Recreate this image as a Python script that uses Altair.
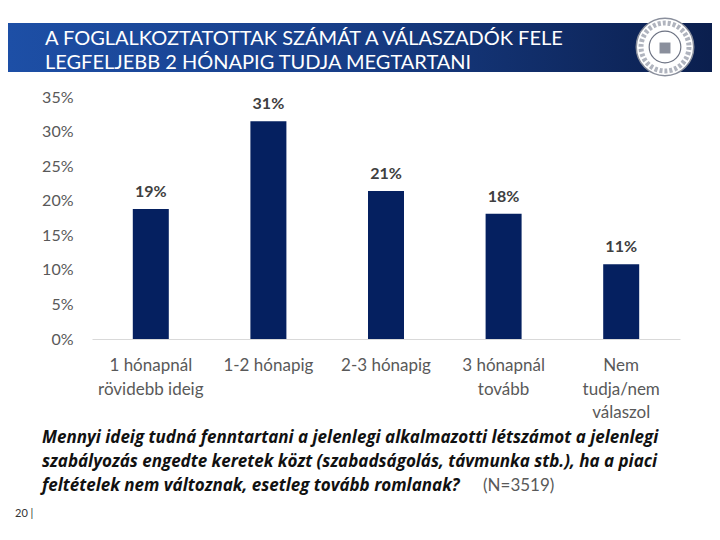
import altair as alt
import pandas as pd

# ---- data ----
categories = ["1 hónapnál rövidebb ideig", "1-2 hónapig", "2-3 hónapig",
              "3 hónapnál tovább", "Nem tudja/nem válaszol"]
cat_lines = ["1 hónapnál\nrövidebb ideig", "1-2 hónapig", "2-3 hónapig",
             "3 hónapnál\ntovább", "Nem\ntudja/nem\nválaszol"]
values = [0.188, 0.315, 0.214, 0.181, 0.108]
value_labels = ["19%", "31%", "21%", "18%", "11%"]
y_ticks = [0, 0.05, 0.10, 0.15, 0.20, 0.25, 0.30, 0.35]

title_lines = ["A FOGLALKOZTATOTTAK SZÁMÁT A VÁLASZADÓK FELE",
               "LEGFELJEBB 2 HÓNAPIG TUDJA MEGTARTANI"]
caption_lines = ["Mennyi ideig tudná fenntartani a jelenlegi alkalmazotti létszámot a jelenlegi",
                 "szabályozás engedte keretek közt (szabadságolás, távmunka stb.), ha a piaci",
                 "feltételek nem változnak, esetleg tovább romlanak?"]
sample_note = "(N=3519)"
page_no = "20 |"

df = pd.DataFrame({"cat": categories, "lines": cat_lines,
                   "v": values, "lab": value_labels})
one = pd.DataFrame({"k": [0]})

FONT = "Lato"
W, H = 588, 242

x = alt.X("cat:N", sort=categories,
          scale=alt.Scale(paddingInner=0, paddingOuter=0),
          axis=alt.Axis(labels=False, ticks=False, title=None,
                        domainColor="#d9d9d9", domainWidth=1.2))
y = alt.Y("v:Q", scale=alt.Scale(domain=[0, 0.35], nice=False),
          axis=alt.Axis(values=y_ticks, format=".0%", title=None, grid=False,
                        ticks=False, domain=False, labelFont=FONT,
                        labelFontSize=16, labelColor="#595959",
                        labelPadding=19, labelOverlap=False))

bars = alt.Chart(df).mark_bar(size=36, color="#052060").encode(x=x, y=y)
bar_text = alt.Chart(df).mark_text(font=FONT, fontSize=16, fontWeight="bold",
                                   color="#404040", baseline="alphabetic",
                                   dy=-12).encode(x=x, y=y, text="lab:N")
cat_text = alt.Chart(df).mark_text(font=FONT, fontSize=17, color="#595959",
                                   baseline="alphabetic", lineBreak="\n",
                                   lineHeight=23.5, align="center").encode(
    x=x, y=alt.value(274), text="lines:N")

# header banner
banner = alt.Chart(one).mark_rect(
    color=alt.Gradient(gradient="linear",
                       stops=[alt.GradientStop(color="#1d4fa6", offset=0),
                              alt.GradientStop(color="#183f8a", offset=0.45),
                              alt.GradientStop(color="#0b1f4e", offset=1)],
                       x1=0, x2=1, y1=0, y2=0)
).encode(x=alt.value(-84), x2=alt.value(620), y=alt.value(-74), y2=alt.value(-25))

title = alt.Chart(pd.DataFrame({"t": ["\n".join(title_lines)]})).mark_text(
    font=FONT, fontSize=20, color="white", align="left", baseline="alphabetic",
    lineBreak="\n", lineHeight=24).encode(
    x=alt.value(-47), y=alt.value(-52), text="t:N")

logo_outer = alt.Chart(one).mark_circle(size=3300, color="white", opacity=1,
                                        stroke="#8a8f9c", strokeWidth=1.5).encode(
    x=alt.value(573), y=alt.value(-50))
logo_ring = alt.Chart(one).mark_circle(size=2300, color="white", opacity=1,
                                       stroke="#b0b4be", strokeWidth=5,
                                       strokeDash=[3, 2]).encode(
    x=alt.value(573), y=alt.value(-50))
logo_inner = alt.Chart(one).mark_circle(size=1000, color="white", opacity=1,
                                        stroke="#6d7383", strokeWidth=1.2).encode(
    x=alt.value(573), y=alt.value(-50))
logo_shield = alt.Chart(one).mark_square(size=120, color="#8a8f9c", opacity=1).encode(
    x=alt.value(573), y=alt.value(-49))

caption = alt.Chart(pd.DataFrame({"t": ["\n".join(caption_lines)]})).mark_text(
    font="Open Sans", fontSize=17, fontWeight="bold", fontStyle="italic",
    color="#111111", align="left", baseline="alphabetic",
    lineBreak="\n", lineHeight=24).encode(
    x=alt.value(-50), y=alt.value(346), text="t:N")
note = alt.Chart(pd.DataFrame({"t": [sample_note]})).mark_text(
    font=FONT, fontSize=17, color="#595959", align="left",
    baseline="alphabetic").encode(x=alt.value(391), y=alt.value(394), text="t:N")
pg = alt.Chart(pd.DataFrame({"t": [page_no]})).mark_text(
    font=FONT, fontSize=11, color="#333333", align="left",
    baseline="alphabetic").encode(x=alt.value(-77), y=alt.value(420), text="t:N")

chart = alt.layer(banner, title, logo_outer, logo_ring, logo_inner, logo_shield,
                  bars, bar_text, cat_text, caption, note, pg).properties(
    width=W, height=H,
    autosize=alt.AutoSizeParams(type="none"),
    padding={"left": 84, "top": 89, "right": 32, "bottom": 193},
).configure_view(stroke=None)

chart.save("out.html", embed_options={"renderer": "svg", "actions": False})
